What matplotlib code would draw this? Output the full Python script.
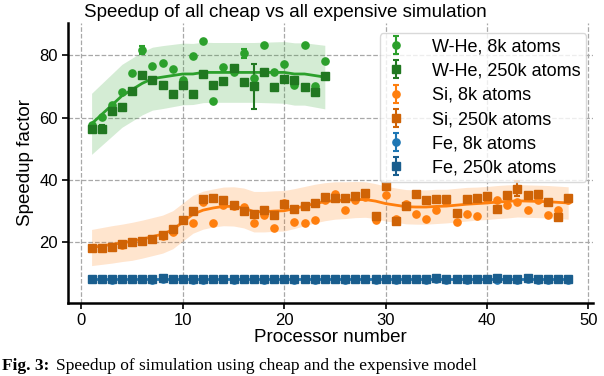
import numpy as np
import matplotlib
matplotlib.use("Agg")
import matplotlib.pyplot as plt

plt.rcParams['font.family'] = ['Liberation Sans', 'DejaVu Sans']

# W-He, processors 1..24
whe_x = np.arange(1, 25)
whe_8k = [57.5, 60.2, 64.1, 68.1, 74.4, 81.7, 76.7, 77.4, 75.6, 72.1, 79.7, 84.5,
          65.2, 76.3, 74.7, 80.6, 72.6, 83.4, 74.5, 77.2, 70.5, 83.2, 70.3, 78.3]
whe_8k_err = [0, 0, 0, 0, 0, 1.2, 0, 0, 0, 0, 0, 0, 0, 0, 0, 1.5, 0, 0, 0, 0, 0, 0, 0, 0]
whe_250k = [56.5, 56.5, 62.0, 63.3, 68.4, 73.7, 72.1, 70.5, 67.5, 70.5, 67.5, 73.9,
            70.5, 71.8, 76.0, 71.4, 70.0, 74.5, 69.9, 72.3, 72.1, 69.8, 68.1, 73.4]
whe_250k_err = [0, 1.0, 0, 0, 0, 0, 0, 0.8, 0, 0, 0, 0, 0, 0, 0, 0, 7.3, 0, 0, 0, 0, 0, 1.0, 0]
whe_fit = [58.0, 61.0, 64.0, 67.0, 69.0, 71.0, 72.5, 73.0, 73.5, 74.0, 74.0, 74.5,
           74.5, 74.5, 74.5, 74.5, 74.5, 74.5, 74.5, 74.5, 74.0, 74.0, 73.5, 73.0]
whe_band = [9.8, 9.9, 10.0, 10.1, 10.1, 10.1, 10.1, 10.1, 10.0, 9.9, 9.8, 9.7,
            9.6, 9.6, 9.6, 9.6, 9.6, 9.7, 9.8, 9.9, 10.0, 10.0, 10.1, 10.2]

# Si, processors 1..48
si_x = np.arange(1, 49)
si_8k = [18.3, 18.3, 18.6, 19.2, 20.2, 20.4, 21.1, 22.0, 23.4, 27.1, 26.1, 33.0,
         26.3, 31.9, 31.6, 31.4, 26.1, 28.7, 24.7, 32.5, 26.6, 26.1, 27.1, 33.5,
         35.6, 30.3, 33.5, 34.5, 27.1, 35.1, 27.5, 32.3, 28.9, 27.6, 30.3, 33.0,
         26.6, 29.2, 28.4, 34.0, 33.5, 31.9, 33.0, 30.3, 33.7, 28.7, 30.3, 33.5]
si_8k_err = [0] * 48
si_250k = [18.3, 18.3, 18.6, 19.5, 20.2, 20.4, 21.1, 22.3, 24.2, 27.1, 30.1, 34.0,
           34.3, 33.5, 32.1, 30.1, 29.2, 30.3, 28.7, 32.2, 30.8, 31.7, 32.6, 34.5,
           34.3, 34.2, 34.8, 35.9, 28.5, 37.9, 26.9, 31.5, 35.4, 33.5, 34.0, 34.0,
           29.4, 34.0, 34.3, 34.8, 30.8, 35.3, 37.2, 35.3, 35.6, 33.0, 28.2, 34.2]
si_250k_err = [0] * 29 + [1.0] + [0] * 12 + [2.5] + [0] * 5
si_fit = [18.3, 18.8, 19.3, 19.8, 20.3, 21.0, 21.8, 22.6, 24.0, 26.5, 29.0, 30.3,
          31.0, 31.5, 31.5, 31.0, 29.8, 29.8, 30.0, 30.1, 30.8, 31.6, 32.4, 33.0,
          33.4, 33.5, 33.7, 33.7, 33.2, 32.4, 31.9, 31.4, 31.3, 31.3, 31.5, 31.6,
          31.9, 32.2, 32.4, 32.6, 32.9, 33.1, 33.3, 33.2, 33.1, 33.0, 32.8, 32.6]
si_band = [5.8, 5.9, 6.0, 6.0, 6.1, 6.1, 6.1, 6.1, 6.1, 6.1, 6.1, 6.1,
           6.1, 6.2, 6.3, 6.4, 6.5, 6.5, 6.5, 6.5, 6.4, 6.3, 6.2, 6.1,
           6.0, 5.9, 5.8, 5.7, 5.6, 5.6, 5.5, 5.5, 5.5, 5.5, 5.5, 5.4,
           5.4, 5.4, 5.3, 5.3, 5.3, 5.3, 5.2, 5.2, 5.2, 5.2, 5.2, 5.2]

# Fe, processors 1..48
fe_x = np.arange(1, 49)
fe_8k = [8.2, 8.1, 8.0, 8.2, 8.1, 8.3, 8.0, 8.2, 8.1, 8.2, 8.0, 7.9,
         8.1, 8.2, 7.8, 8.1, 8.2, 8.0, 8.2, 8.1, 7.9, 8.2, 8.0, 8.1,
         8.2, 7.9, 8.1, 8.2, 8.0, 8.1, 7.8, 8.2, 8.1, 8.0, 8.2, 7.9,
         8.1, 8.0, 8.2, 8.1, 8.0, 8.2, 7.9, 8.1, 8.0, 7.8, 8.1, 7.9]
fe_250k = [8.3, 8.3, 8.3, 8.2, 8.3, 8.3, 8.3, 8.4, 8.3, 8.3, 8.3, 8.3,
           8.3, 8.3, 8.3, 8.2, 8.3, 8.3, 8.3, 8.3, 8.3, 8.3, 8.3, 8.3,
           8.3, 8.3, 8.3, 8.3, 8.3, 8.3, 8.3, 8.3, 8.3, 8.3, 8.4, 8.3,
           8.3, 8.3, 8.3, 8.3, 8.4, 8.3, 8.3, 8.4, 8.3, 8.3, 8.3, 8.3]
fe_fit = [8.2] * 48
fe_band = [0.3] * 48

green, dgreen = '#2ca02c', '#217821'
orange, dorange = '#ff7f0e', '#cf6306'
blue, dblue = '#1f77b4', '#1a5e8e'

fig = plt.figure(figsize=(6.04, 3.76), dpi=100)
ax = fig.add_axes([0.113, 0.195, 0.868, 0.745])

ax.grid(True, color='#a8a8a8', linestyle='--', linewidth=0.9)
ax.set_axisbelow(True)

ms = 5.2
eb = dict(ms=ms, capsize=2, elinewidth=1.5, capthick=1.5)
ax.fill_between(whe_x, np.array(whe_fit) - whe_band, np.array(whe_fit) + whe_band,
                color=green, alpha=0.2, lw=0)
ax.plot(whe_x, whe_fit, color=green, lw=2)
ax.errorbar(whe_x, whe_8k, yerr=whe_8k_err, fmt='o', color=green, label='W-He, 8k atoms', **eb)
ax.errorbar(whe_x, whe_250k, yerr=whe_250k_err, fmt='s', color=dgreen, label='W-He, 250k atoms', **eb)

ax.fill_between(si_x, np.array(si_fit) - si_band, np.array(si_fit) + si_band,
                color=orange, alpha=0.2, lw=0)
ax.plot(si_x, si_fit, color=orange, lw=2)
ax.errorbar(si_x, si_8k, yerr=si_8k_err, fmt='o', color=orange, label='Si, 8k atoms', **eb)
ax.errorbar(si_x, si_250k, yerr=si_250k_err, fmt='s', color=dorange, label='Si, 250k atoms', **eb)

ax.fill_between(fe_x, np.array(fe_fit) - fe_band, np.array(fe_fit) + fe_band,
                color=blue, alpha=0.2, lw=0)
ax.plot(fe_x, fe_fit, color=blue, lw=2)
ax.errorbar(fe_x, fe_8k, yerr=[0.2] * 48, fmt='o', color=blue, label='Fe, 8k atoms', **eb)
ax.errorbar(fe_x, fe_250k, yerr=[0.2] * 48, fmt='s', color=dblue, label='Fe, 250k atoms', **eb)

ax.set_xlim(-1.3, 50.4)
ax.set_ylim(0.6, 90.5)
ax.set_xticks([0, 10, 20, 30, 40, 50])
ax.set_yticks([20, 40, 60, 80])
ax.tick_params(labelsize=12, length=4, width=1.2)
for s in ['top', 'right']:
    ax.spines[s].set_visible(False)
for s in ['left', 'bottom']:
    ax.spines[s].set_linewidth(1.8)

ax.set_xlabel('Processor number', fontsize=13.5, labelpad=1)
ax.set_ylabel('Speedup factor', fontsize=13.5)
ax.set_title('Speedup of all cheap vs all expensive simulation', fontsize=13.5, pad=4, x=0.414)

ax.legend(loc='upper right', fontsize=13, handlelength=1.2, handletextpad=1.4,
          labelspacing=0.4, borderpad=0.3, framealpha=0.8, edgecolor='#d0d0d0',
          bbox_to_anchor=(1.005, 0.995))

cap1 = fig.text(0.004, 0.006, 'Fig. 3:', fontsize=12.5, family='Liberation Serif',
                weight='bold', va='bottom', ha='left')
fig.canvas.draw()
bb = cap1.get_window_extent()
fig.text((bb.x1 + 6) / fig.bbox.width, 0.006,
         'Speedup of simulation using cheap and the expensive model',
         fontsize=12.5, family='Liberation Serif', va='bottom', ha='left')

fig.savefig('out.png', dpi=100)
